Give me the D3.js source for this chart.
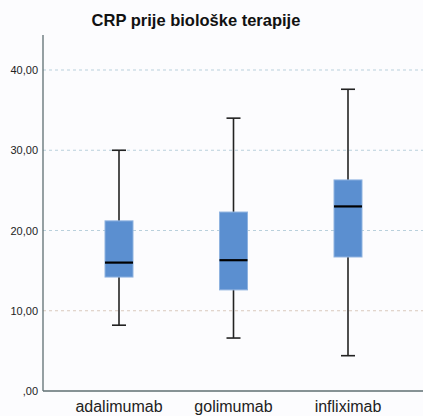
<!DOCTYPE html>
<html>
<head>
<meta charset="utf-8">
<script src="https://cdn.jsdelivr.net/npm/d3@7"></script>
<style>
  body { margin: 0; background: #fcfcfe; }
  svg { display: block; font-family: "Liberation Sans", Arial, sans-serif; }
</style>
</head>
<body>
<script>
// data
const drugs = ['adalimumab', 'golimumab', 'infliximab'];
const whiskerLow = [8.2, 6.6, 4.4];
const q1 = [14.2, 12.6, 16.7];
const median = [16.0, 16.3, 23.0];
const q3 = [21.2, 22.3, 26.3];
const whiskerHigh = [30.0, 34.0, 37.6];
const yTicks = [0, 10, 20, 30, 40];

const width = 423, height = 416;
const svg = d3.select('body').append('svg')
    .attr('width', width)
    .attr('height', height);

const plotLeft = 43, plotRight = 423, plotTop = 35, plotBottom = 391;

let y = d3.scaleLinear().domain([0, 40]).range([plotBottom, 70]);
let x = d3.scalePoint().domain(drugs).range([119, 348]);

// grid lines
svg.append('g').selectAll('line')
    .data(yTicks.filter(t => t > 0))
    .enter().append('line')
    .attr('x1', plotLeft).attr('x2', plotRight)
    .attr('y1', d => y(d)).attr('y2', d => y(d))
    .attr('stroke', d => d >= 20 ? '#b9d0dc' : '#d9c9bd')
    .attr('stroke-width', 1)
    .attr('stroke-dasharray', '3,3');

// axis lines
svg.append('line')
    .attr('x1', plotLeft).attr('x2', plotLeft)
    .attr('y1', plotTop).attr('y2', plotBottom)
    .attr('stroke', '#5f6f72').attr('stroke-width', 1.3);
svg.append('line')
    .attr('x1', plotLeft).attr('x2', plotRight)
    .attr('y1', plotBottom).attr('y2', plotBottom)
    .attr('stroke', '#5f6f72').attr('stroke-width', 1.3);

// y tick labels
svg.append('g').selectAll('text')
    .data(yTicks)
    .enter().append('text')
    .attr('x', 38)
    .attr('y', d => y(d) + 4)
    .attr('text-anchor', 'end')
    .style('font-size', '11px')
    .style('fill', '#222')
    .text(d => d === 0 ? ',00' : d3.format('.2f')(d).replace('.', ','));

// category labels
svg.append('g').selectAll('text')
    .data(drugs)
    .enter().append('text')
    .attr('x', d => x(d))
    .attr('y', 412)
    .attr('text-anchor', 'middle')
    .style('font-size', '16px')
    .style('fill', '#222')
    .text(d => d);

// title
svg.append('text')
    .attr('x', 196)
    .attr('y', 26)
    .attr('text-anchor', 'middle')
    .style('font-size', '16.5px')
    .style('font-weight', 'bold')
    .style('fill', '#111')
    .text('CRP prije biološke terapije');

const boxW = 28, capW = 14;
const boxes = svg.append('g').selectAll('g')
    .data(drugs)
    .enter().append('g');

// whiskers
boxes.append('line')
    .attr('x1', d => x(d)).attr('x2', d => x(d))
    .attr('y1', (d, i) => y(whiskerHigh[i]))
    .attr('y2', (d, i) => y(whiskerLow[i]))
    .attr('stroke', '#222').attr('stroke-width', 1.6);
boxes.append('line')
    .attr('x1', d => x(d) - capW / 2).attr('x2', d => x(d) + capW / 2)
    .attr('y1', (d, i) => y(whiskerHigh[i])).attr('y2', (d, i) => y(whiskerHigh[i]))
    .attr('stroke', '#222').attr('stroke-width', 1.6);
boxes.append('line')
    .attr('x1', d => x(d) - capW / 2).attr('x2', d => x(d) + capW / 2)
    .attr('y1', (d, i) => y(whiskerLow[i])).attr('y2', (d, i) => y(whiskerLow[i]))
    .attr('stroke', '#222').attr('stroke-width', 1.6);

// box
boxes.append('rect')
    .attr('x', d => x(d) - boxW / 2)
    .attr('width', boxW)
    .attr('y', (d, i) => y(q3[i]))
    .attr('height', (d, i) => y(q1[i]) - y(q3[i]))
    .attr('fill', '#5b8fd0')
    .attr('stroke', '#8fb3e0')
    .attr('stroke-width', 1);

// median
boxes.append('line')
    .attr('x1', d => x(d) - boxW / 2).attr('x2', d => x(d) + boxW / 2)
    .attr('y1', (d, i) => y(median[i])).attr('y2', (d, i) => y(median[i]))
    .attr('stroke', '#000').attr('stroke-width', 2.2);
</script>
</body>
</html>
